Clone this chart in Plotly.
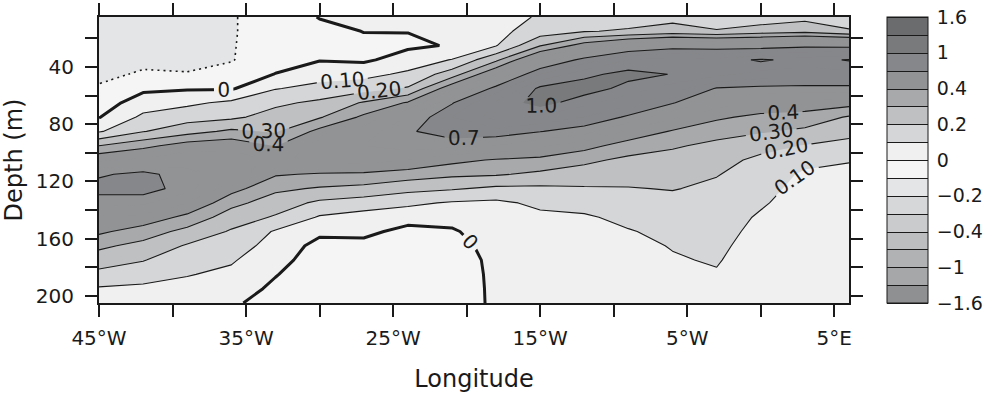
import numpy as np
import plotly.graph_objects as go

# ---------------- data ----------------
depth = [5, 15, 25, 35, 45, 55, 65, 75, 85, 95, 105, 115, 125, 135, 145, 155, 165, 175, 185, 195, 205]
lon = [-45, -42, -39, -36, -33, -30, -27, -24, -21, -18, -15, -12, -9, -6, -3, 0, 3, 6]

# one vertical profile per longitude (values at the depths above)
c45W = [-0.15, -0.15, -0.14, -0.13, -0.12, -0.09, -0.05, -0.005, 0.09, 0.30, 0.48, 0.68, 0.76, 0.62, 0.52, 0.42, 0.32, 0.25, 0.17, 0.09, 0.05]
c42W = [-0.16, -0.15, -0.14, -0.12, -0.09, -0.02, 0.05, 0.12, 0.195, 0.37, 0.52, 0.74, 0.76, 0.62, 0.47, 0.35, 0.27, 0.205, 0.14, 0.08, 0.04]
c39W = [-0.16, -0.16, -0.15, -0.125, -0.095, -0.01, 0.08, 0.16, 0.26, 0.45, 0.56, 0.63, 0.64, 0.50, 0.37, 0.27, 0.19, 0.14, 0.105, 0.07, 0.04]
c36W = [-0.105, -0.105, -0.105, -0.105, -0.07, -0.01, 0.12, 0.18, 0.32, 0.47, 0.56, 0.55, 0.44, 0.33, 0.25, 0.19, 0.15, 0.11, 0.08, 0.05, 0.015]
c33W = [-0.07, -0.07, -0.06, -0.04, 0.003, 0.095, 0.18, 0.24, 0.29, 0.395, 0.48, 0.41, 0.32, 0.25, 0.19, 0.09, 0.06, 0.035, 0.005, -0.02, -0.04]
c30W = [0.005, -0.03, -0.03, -0.005, 0.06, 0.13, 0.22, 0.29, 0.43, 0.55, 0.53, 0.39, 0.29, 0.18, 0.09, 0.02, -0.03, -0.05, -0.06, -0.06, -0.06]
c27W = [0.03, 0.002, -0.02, -0.015, 0.07, 0.16, 0.31, 0.42, 0.55, 0.60, 0.55, 0.38, 0.27, 0.15, 0.06, 0.025, -0.03, -0.05, -0.06, -0.06, -0.06]
c24W = [0.03, 0.002, -0.015, 0.04, 0.12, 0.21, 0.41, 0.60, 0.68, 0.65, 0.50, 0.35, 0.23, 0.12, 0.04, -0.03, -0.06, -0.07, -0.07, -0.07, -0.07]
c21W = [0.04, 0.02, 0.006, 0.105, 0.25, 0.47, 0.69, 0.80, 0.78, 0.62, 0.43, 0.32, 0.21, 0.09, 0.03, -0.01, -0.03, -0.04, -0.045, -0.045, -0.045]
c18W = [0.06, 0.07, 0.095, 0.28, 0.50, 0.74, 0.92, 0.94, 0.76, 0.60, 0.39, 0.31, 0.18, 0.08, 0.06, 0.045, 0.03, 0.02, 0.018, 0.016, 0.015]
c15W = [0.11, 0.15, 0.295, 0.55, 0.80, 1.03, 1.05, 0.88, 0.705, 0.52, 0.37, 0.28, 0.18, 0.12, 0.08, 0.06, 0.05, 0.04, 0.035, 0.03, 0.03]
c12W = [0.16, 0.195, 0.45, 0.74, 0.97, 1.06, 0.93, 0.80, 0.64, 0.44, 0.32, 0.26, 0.19, 0.13, 0.09, 0.07, 0.06, 0.05, 0.045, 0.04, 0.04]
c9W = [0.16, 0.21, 0.56, 0.90, 1.04, 0.96, 0.83, 0.68, 0.48, 0.35, 0.28, 0.24, 0.195, 0.16, 0.12, 0.095, 0.085, 0.08, 0.075, 0.07, 0.07]
c6W = [0.17, 0.24, 0.63, 0.95, 0.995, 0.85, 0.71, 0.52, 0.39, 0.31, 0.27, 0.24, 0.205, 0.17, 0.14, 0.12, 0.103, 0.095, 0.09, 0.085, 0.08]
c3W = [0.13, 0.21, 0.62, 0.93, 0.93, 0.69, 0.55, 0.42, 0.33, 0.28, 0.23, 0.205, 0.18, 0.16, 0.14, 0.125, 0.115, 0.105, 0.095, 0.09, 0.085]
c0 = [0.14, 0.25, 0.62, 1.02, 0.86, 0.67, 0.49, 0.37, 0.31, 0.23, 0.18, 0.155, 0.13, 0.11, 0.09, 0.08, 0.07, 0.065, 0.06, 0.06, 0.06]
c3E = [0.17, 0.27, 0.67, 0.95, 0.85, 0.66, 0.46, 0.36, 0.28, 0.195, 0.13, 0.085, 0.07, 0.06, 0.05, 0.045, 0.04, 0.035, 0.03, 0.03, 0.03]
c6E = [0.15, 0.21, 0.66, 1.01, 0.86, 0.66, 0.44, 0.29, 0.23, 0.17, 0.105, 0.08, 0.06, 0.05, 0.04, 0.035, 0.03, 0.025, 0.02, 0.02, 0.02]

# contour levels (non uniform) and shading of each band
levels = [-1.6, -1.3, -1.0, -0.7, -0.4, -0.3, -0.2, -0.1, 0.0, 0.1, 0.2, 0.3, 0.4, 0.7, 1.0, 1.3, 1.6]
band_colors = ["#8f9091", "#a6a7a8", "#b1b2b3", "#bdbebf", "#cacbcc", "#d6d7d8", "#e4e5e6", "#f4f5f4",
               "#eff0ef", "#d5d6d7", "#bfc0c1", "#a7a9ab", "#929395", "#86878a", "#797a7c", "#6b6c6e"]
cbar_labels = ["\u22121.6", "\u22121", "\u22120.4", "\u22120.2", "0", "0.2", "0.4", "1", "1.6"]
line_levels = [0.1, 0.2, 0.3, 0.4, 0.7, 1.0]
zero_level = 0.0
dotted_level = -0.1

xtick_vals = list(range(-45, 6, 5))
ytick_vals = list(range(20, 201, 20))

# ---------------- build ----------------
z = np.column_stack([c45W, c42W, c39W, c36W, c33W, c30W, c27W, c24W, c21W, c18W,
                     c15W, c12W, c9W, c6W, c3W, c0, c3E, c6E])

FONT = "DejaVu Sans"
TXT = "#1a1a1a"
step = 0.1
start, end = levels[0], levels[-1]
nc = int(np.floor((end + step * 1e-6 - start) / step)) + 1


def frac(v):
    return ((v - start) / step + 0.5) / nc


fill_scale = [[0.0, band_colors[0]]]
for k, col in enumerate(band_colors):
    fill_scale.append([round(frac(levels[k]), 6), col])
    fill_scale.append([round(frac(levels[k + 1]), 6), col])
fill_scale.append([1.0, band_colors[-1]])

fig = go.Figure()

# filled bands
fig.add_trace(go.Contour(
    x=lon, y=depth, z=z,
    autocontour=False,
    contours=dict(start=start, end=end, size=step, coloring="fill", showlines=False),
    colorscale=fill_scale, showscale=False,
    line=dict(width=0, smoothing=0), hoverinfo="skip",
))

# thin labelled contour lines
for lv in line_levels:
    fig.add_trace(go.Contour(
        x=lon, y=depth, z=z, autocontour=False,
        contours=dict(start=lv, end=lv, size=step, coloring="none", showlines=True,
                      showlabels=True,
                      labelfont=dict(family=FONT, size=20, color=TXT),
                      labelformat=".2f" if lv < 0.35 else ".1f"),
        line=dict(color=TXT, width=1.1, smoothing=0),
        showscale=False, hoverinfo="skip",
    ))

# thick zero line
fig.add_trace(go.Contour(
    x=lon, y=depth, z=z, autocontour=False,
    contours=dict(start=zero_level, end=zero_level, size=step, coloring="none", showlines=True,
                  showlabels=True, labelfont=dict(family=FONT, size=20, color=TXT),
                  labelformat=".0f"),
    line=dict(color=TXT, width=3, smoothing=0),
    showscale=False, hoverinfo="skip",
))

# dotted negative line
fig.add_trace(go.Contour(
    x=lon, y=depth, z=z, autocontour=False,
    contours=dict(start=dotted_level, end=dotted_level, size=step, coloring="none", showlines=True,
                  showlabels=False),
    line=dict(color=TXT, width=1.6, dash="2px,4px", smoothing=0),
    showscale=False, hoverinfo="skip",
))

# colour bar (equal boxes for the non uniform levels), carried by a trace on hidden overlay axes
nb = len(band_colors)
cb_scale = []
for k, col in enumerate(band_colors):
    cb_scale.append([k / nb, col])
    cb_scale.append([(k + 1) / nb, col])
idx_max = len(levels) - 1
fig.add_trace(go.Contour(
    x=[0, 1], y=[0, 1], z=[[0, idx_max], [0, idx_max]],
    xaxis="x2", yaxis="y2",
    zmin=0, zmax=idx_max, autocontour=False,
    contours=dict(start=0, end=idx_max, size=1, coloring="heatmap", showlines=True),
    line=dict(color=TXT, width=1),
    colorscale=cb_scale, showscale=True, hoverinfo="skip",
    colorbar=dict(
        tickvals=list(range(0, idx_max + 1, 2)), ticktext=cbar_labels,
        x=(887 - 99) / 750, xanchor="left", xpad=0,
        y=0.5, yanchor="middle", len=1, lenmode="fraction", ypad=0,
        thickness=41, thicknessmode="pixels",
        outlinewidth=1, outlinecolor=TXT,
        ticks="outside", ticklen=5, tickcolor="rgba(0,0,0,0)",
        tickfont=dict(family=FONT, size=19, color=TXT),
    ),
))

xt_text = [(f"{abs(v)}°{'W' if v < 0 else 'E'}" if v % 10 == 5 else "") for v in xtick_vals]
yt_text = [(str(v) if v % 40 == 0 else "") for v in ytick_vals]

fig.update_layout(
    width=993, height=393,
    margin=dict(l=99, r=144, t=17, b=90, autoexpand=False),
    paper_bgcolor="white", plot_bgcolor="rgba(0,0,0,0)",
    font=dict(family=FONT, size=20, color=TXT),
    showlegend=False,
    xaxis=dict(
        range=[lon[0], lon[-1]], tickmode="array", tickvals=xtick_vals, ticktext=xt_text,
        ticks="outside", ticklen=12, tickwidth=2, tickcolor=TXT,
        showline=True, linewidth=2, linecolor=TXT, mirror="ticks",
        showgrid=False, zeroline=False, ticklabelstandoff=4,
        tickfont=dict(family=FONT, size=20, color=TXT),
        title=dict(text="Longitude", font=dict(family=FONT, size=24, color=TXT), standoff=34),
    ),
    yaxis=dict(
        range=[205, 5], tickmode="array", tickvals=ytick_vals, ticktext=yt_text,
        ticks="outside", ticklen=12, tickwidth=2, tickcolor=TXT,
        showline=True, linewidth=2, linecolor=TXT, mirror="ticks",
        showgrid=False, zeroline=False, ticklabelstandoff=7,
        tickfont=dict(family=FONT, size=20, color=TXT),
        title=dict(text="Depth (m)", font=dict(family=FONT, size=24, color=TXT), standoff=6),
    ),
    xaxis2=dict(range=[10, 11], visible=False, overlaying="x"),
    yaxis2=dict(range=[10, 11], visible=False, overlaying="y"),
)

fig.write_html("out.html")
